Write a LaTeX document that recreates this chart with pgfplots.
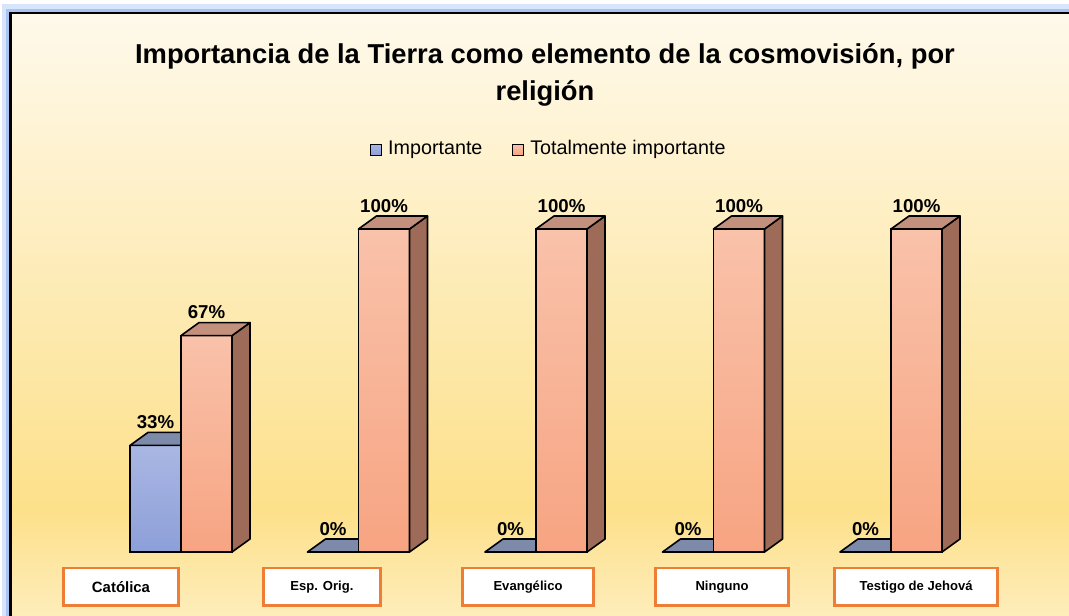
\documentclass[border=0pt]{standalone}
\usepackage{fontspec}
\setmainfont{Liberation Sans}
\usepackage{pgfplots}
\pgfplotsset{compat=1.18}
\pgfdeclareplotmark{empty}{}
\definecolor{bgtop}{HTML}{FEF9EB}
\definecolor{bgmid}{HTML}{FDE08A}
\definecolor{bgbot}{HTML}{FEF0C6}
\definecolor{glowA}{HTML}{D8E4FA}
\definecolor{glowB}{HTML}{A9C3F2}
\definecolor{bluetop}{HTML}{AAB7E3}
\definecolor{bluebot}{HTML}{8C9FD8}
\definecolor{bluetopface}{HTML}{7E8AAA}
\definecolor{bluelegend}{HTML}{97A8DC}
\definecolor{orangetop}{HTML}{F9C2AA}
\definecolor{orangebot}{HTML}{F7A482}
\definecolor{orangetopface}{HTML}{C2907C}
\definecolor{orangeside}{HTML}{9D6B57}
\definecolor{orangelegend}{HTML}{F9B89B}
\definecolor{boxorange}{HTML}{EE7D35}

\pgfplotsset{
  threeD/.style n args={5}{% #1 top face, #2 side, #3 bar shift pt, #4 front top, #5 front bottom
    scatter, only marks, mark=empty, forget plot,
    visualization depends on={rawy \as \ry},
    scatter/@pre marker code/.code={%
      \pgfmathsetmacro\hh{\ry*2.4225}%
      \pgfmathsetmacro\xl{#3-19.125}%
      \pgfmathsetmacro\xr{#3+19.125}%
      \ifdim\hh pt>0.5pt
        \shade[top color=#4,bottom color=#5] (\xl pt,0pt) rectangle (\xr pt,-\hh pt);
        \draw[black,line width=1.2pt,line join=round] (\xl pt,0pt) rectangle (\xr pt,-\hh pt);
      \fi
      \filldraw[fill=#2,draw=black,line width=1.2pt,line join=round]
        (\xr pt,0pt) -- ++(13.5pt,9.75pt) -- ++(0pt,-\hh pt) -- ++(-13.5pt,-9.75pt) -- cycle;
      \filldraw[fill=#1,draw=black,line width=1.2pt,line join=round]
        (\xl pt,0pt) -- (\xr pt,0pt) -- ++(13.5pt,9.75pt) -- ++(-38.25pt,0pt) -- cycle;
    },
    scatter/@post marker code/.code={},
  },
  legsquare/.style={legend image code/.code={%
    \draw[line width=0.8pt,draw=black,fill=#1] (0pt,-4.1pt) rectangle (8.25pt,4.1pt);
    \pgfpathmoveto{\pgfpoint{11.5pt}{0pt}}\pgfusepath{}}},
}

\begin{document}
\begin{tikzpicture}
\begin{scope}[x=0.75pt,y=-0.75pt]
  \fill[white] (0,0) rectangle (1069,615);
  \fill[glowA] (2,4) rectangle (1090,640);
  \fill[glowB] (6,9) rectangle (1090,640);
  \shade[top color=bgtop, bottom color=bgmid] (10,13) rectangle (1090,510);
  \shade[top color=bgmid, bottom color=bgbot] (10,509.5) rectangle (1090,640);
  \draw[black, line width=1.9pt] (10.5,13) rectangle (1100,650);
  \node[font=\bfseries\fontsize{20.5}{24}\selectfont, anchor=base] at (545,63)
    {Importancia de la Tierra como elemento de la cosmovisión, por};
  \node[font=\bfseries\fontsize{20.5}{24}\selectfont, anchor=base] at (545,100)
    {religión};
\end{scope}

\begin{axis}[
  at={(135.75pt,-414pt)}, anchor=origin,
  scale only axis, width=692.25pt, height=242.25pt,
  xmin=-0.6, xmax=4.6, ymin=0, ymax=100,
  clip=false,
  axis line style={draw=none},
  ytick=\empty,
  major tick length=0pt,
  /pgf/number format/assume math mode=true,
  xtick={-0.338,0.794,1.955,3.048,4.141},
  xticklabels={
    {\makebox[86.6pt]{\fontsize{11.2}{13}\selectfont Católica}},
    {\makebox[87.4pt]{\fontsize{9.8}{12}\selectfont Esp. Orig.}},
    {\makebox[98.6pt]{\fontsize{9.8}{12}\selectfont Evangélico}},
    {\makebox[99.4pt]{\fontsize{9.8}{12}\selectfont Ninguno}},
    {\makebox[122.6pt]{\fontsize{9.8}{12}\selectfont Testigo de Jehová}}},
  xticklabel style={draw=boxorange, line width=2pt, fill=white, inner sep=0pt,
    minimum height=28.1pt, font=\bfseries, anchor=north, yshift=-11pt},
  legend style={at={(0.514,1.245)}, anchor=center, draw=none, fill=none,
    legend columns=-1, font=\fontsize{14.8}{17}\selectfont,
    nodes={text height=10.8pt, text depth=3.2pt},
    /tikz/every even column/.append style={column sep=20pt}},
  every node near coord/.append style={font=\bfseries\fontsize{14}{16}\selectfont, anchor=base, yshift=12.75pt},
]
% Importante
\addplot[ybar, bar width=38.25pt, bar shift=-19.125pt, draw=black, line width=1.2pt,
  top color=bluetop, bottom color=bluebot,
  nodes near coords={\pgfmathprintnumber{\pgfplotspointmeta}\%},
  every node near coord/.append style={xshift=-19.125pt},
  legsquare=bluelegend]
  coordinates {(0,33) (1,0) (2,0) (3,0) (4,0)};
\addlegendentry{Importante}
\addplot[threeD={bluetopface}{bluetopface}{-19.125}{bluetop}{bluebot}] coordinates {(0,33) (1,0) (2,0) (3,0) (4,0)};
% Totalmente importante
\addplot[ybar, bar width=38.25pt, bar shift=19.125pt, draw=black, line width=1.2pt,
  top color=orangetop, bottom color=orangebot,
  nodes near coords={\pgfmathprintnumber{\pgfplotspointmeta}\%},
  every node near coord/.append style={xshift=19.125pt},
  legsquare=orangelegend]
  coordinates {(0,67) (1,100) (2,100) (3,100) (4,100)};
\addlegendentry{Totalmente importante}
\addplot[threeD={orangetopface}{orangeside}{19.125}{orangetop}{orangebot}] coordinates {(0,67) (1,100) (2,100) (3,100) (4,100)};
\end{axis}
\pgfresetboundingbox
\path[use as bounding box] (0pt,0pt) rectangle (801.75pt,-461.25pt);
\end{tikzpicture}
\end{document}
